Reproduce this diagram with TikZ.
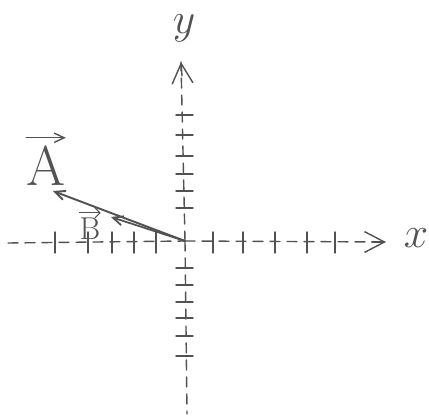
\documentclass[tikz,border=0pt]{standalone}
\usepackage{amsmath,amssymb}
\usetikzlibrary{positioning,arrows.meta}
\begin{document}
\begin{tikzpicture}[x=0.02cm,y=-0.02cm,>={Straight Barb[length=2mm,angle'=50]},
  pencil/.style={draw=black!68,line width=0.8pt,line cap=round},
  axisline/.style={pencil,dash pattern=on 0.2cm off 0.14cm},
  lbl/.style={text=black!68,inner sep=0pt}]
\useasboundingbox (0,0) rectangle (429,418);
\coordinate (o) at (185,241);
\coordinate (xl) at (8,243);
\coordinate (xr) at (386,242);
\coordinate (yt) at (181,62);
\coordinate (yb) at (187,414);
\coordinate (a) at (53,191);
\coordinate (b) at (111,217);
% axes
\draw[axisline] (xl) -- (o);
\draw[axisline] (o) -- (xr);
\draw[pencil,{Straight Barb[length=4mm,angle'=55]}-] (xr) -- +(-14,0);
\draw[axisline] (o) -- (yt);
\draw[pencil,{Straight Barb[length=4mm,angle'=55]}-] (yt) -- +(1,14);
\draw[axisline] (o) -- (yb);
% ticks
\foreach \t in {55,88,112,134,156,213,243,275,307,335}
  \draw[pencil] (\t,232) -- (\t,253);
\foreach \t in {115,135,156,174,191,208,268,285,302,318,336,356}
  \draw[pencil] (176,\t) -- (193,\t);
% vectors
\draw[pencil,line width=1.1pt,->] (o) -- (a);
\draw[pencil,line width=1pt,->] (o) -- (b);
% labels
\node[lbl,font=\fontsize{34}{34}\selectfont] (xlab) at (416,238) {$x$};
\node[lbl,font=\fontsize{40}{40}\selectfont] (ylab) at (184,28) {$y$};
\node[lbl,font=\fontsize{32}{32}\selectfont] (alab) at (46,166) {A};
\draw[pencil,->] ([yshift=0.16cm]alab.north west) -- ([yshift=0.16cm]alab.north east);
\node[lbl,font=\fontsize{18}{18}\selectfont] (blab) at (90,229) {B};
\draw[pencil,line width=0.6pt,->,>={Straight Barb[length=1mm]}] ([yshift=0.1cm]blab.north west) -- ([yshift=0.1cm]blab.north east);
\end{tikzpicture}
\end{document}
